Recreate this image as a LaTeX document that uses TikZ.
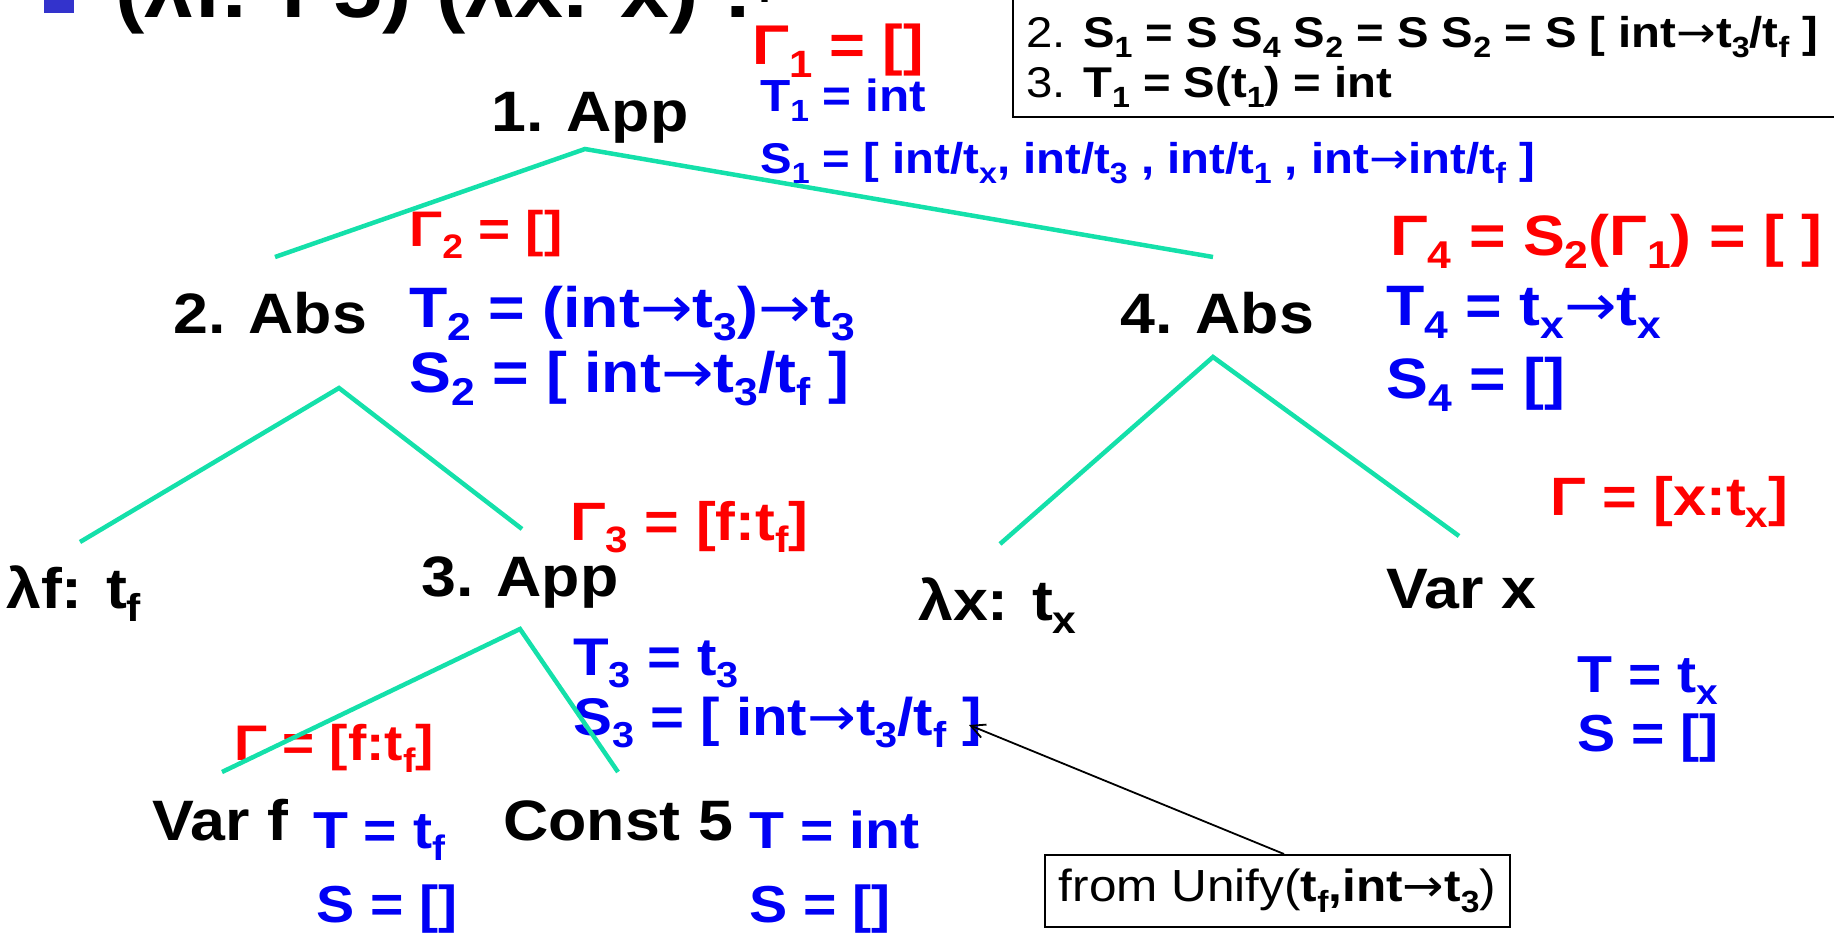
\documentclass[tikz,border=0pt]{standalone}
\usepackage{fontspec}
\setmainfont{Liberation Sans}[FakeStretch=1.1]
\newfontfamily\arrf{DejaVu Sans}[FakeStretch=1.1]
\usepackage{graphicx}
\usetikzlibrary{arrows.meta}
\definecolor{tgreen}{HTML}{14E0AA}
\definecolor{tred}{HTML}{FF0000}
\definecolor{tblue}{HTML}{0000F5}
\definecolor{bulletc}{HTML}{3333CC}
\newcommand\sbx[1]{\raisebox{-0.24em}{\scalebox{0.68}{#1}}}
\newcommand\fs[1]{\fontsize{#1}{#1}\selectfont}
\newcommand\rarr{{\arrf\mdseries →}}
\tikzset{
  lbl/.style={anchor=base west, inner sep=0pt},
  big/.style={lbl, font=\fs{57}\bfseries, text=black},
  gam/.style={lbl, text=tred},
  typ/.style={lbl, text=tblue},
  edge/.style={draw=tgreen, line width=4.5pt},
}
\begin{document}
\begin{tikzpicture}[x=1pt,y=-1pt]
\useasboundingbox (0,0) rectangle (1834,938);
\clip (0,0) rectangle (1834,938);
% title
\fill[bulletc] (44,-20) rectangle (74,13);
\node[big, font=\fs{80}\bfseries] (title) at (115,17) {(λf. f 5) (λx. x) :};
\node[big, font=\fs{40}\bfseries] (qm) at (752,2) {?};
% top box
\node[lbl, font=\fs{43}, text=black] (box1) at (1026,47) {2. \textbf{S\sbx{1} = S S\sbx{4} S\sbx{2} = S S\sbx{2} = S [ int\rarr t\sbx{3}/t\sbx{f} ]}};
\node[lbl, font=\fs{43}, text=black] (box2) at (1026,97) {3. \textbf{T\sbx{1} = S(t\sbx{1}) = int}};
\draw[line width=2pt] (1013,-10) rectangle (1850,117);
% node 1
\node[big] (app1) at (491,131) {1. App};
\node[gam, font=\fs{56}\bfseries] (g1) at (752,64) {Γ\sbx{1} = []};
\node[typ, font=\fs{45}\bfseries] (t1) at (760,111) {T\sbx{1} = int};
\node[typ, font=\fs{43}\bfseries] (s1) at (760,173) {S\sbx{1} = [ int/t\sbx{x}, int/t\sbx{3} , int/t\sbx{1} , int\rarr int/t\sbx{f} ]};
% node 2
\node[gam, font=\fs{50}\bfseries] (g2) at (409,246) {Γ\sbx{2} = []};
\node[big] (abs2) at (173,333) {2. Abs};
\node[typ, font=\fs{57}\bfseries] (t2) at (409,327) {T\sbx{2} = (int\rarr t\sbx{3})\rarr t\sbx{3}};
\node[typ, font=\fs{57}\bfseries] (s2) at (409,392) {S\sbx{2} = [ int\rarr t\sbx{3}/t\sbx{f} ]};
% node 4
\node[big] (abs4) at (1120,333) {4. Abs};
\node[gam, font=\fs{57}\bfseries] (g4) at (1390,255) {Γ\sbx{4} = S\sbx{2}(Γ\sbx{1}) = [ ]};
\node[typ, font=\fs{57}\bfseries] (t4) at (1386,325) {T\sbx{4} = t\sbx{x}\rarr t\sbx{x}};
\node[typ, font=\fs{57}\bfseries] (s4) at (1386,398) {S\sbx{4} = []};
% left subtree
\node[big] (lf) at (6,608) {λf: t\sbx{f}};
\node[gam, font=\fs{54}\bfseries] (g3) at (570,540) {Γ\sbx{3} = [f:t\sbx{f}]};
\node[big] (app3) at (421,596) {3. App};
\node[typ, font=\fs{53}\bfseries] (t3) at (573,675) {T\sbx{3} = t\sbx{3}};
\node[typ, font=\fs{53}\bfseries] (s3) at (573,735) {S\sbx{3} = [ int\rarr t\sbx{3}/t\sbx{f} ]};
\node[gam, font=\fs{50}\bfseries] (gf) at (234,760) {Γ = [f:t\sbx{f}]};
\node[big] (varf) at (152,840) {Var f};
\node[typ, font=\fs{52}\bfseries] (tf) at (313,848) {T = t\sbx{f}};
\node[typ, font=\fs{52}\bfseries] (sf) at (316,922) {S = []};
\node[big] (const) at (503,840) {Const 5};
\node[typ, font=\fs{52}\bfseries] (tc) at (749,848) {T = int};
\node[typ, font=\fs{52}\bfseries] (sc) at (749,922) {S = []};
% right subtree
\node[gam, font=\fs{54}\bfseries] (gx) at (1550,515) {Γ = [x:t\sbx{x}]};
\node[big] (lx) at (918,620) {λx: t\sbx{x}};
\node[big] (varx) at (1386,608) {Var x};
\node[typ, font=\fs{52}\bfseries] (tx) at (1577,692) {T = t\sbx{x}};
\node[typ, font=\fs{52}\bfseries] (sx) at (1577,751) {S = []};
% tree edges
\coordinate (a1) at (585,149);
\coordinate (a1l) at (275,257);
\coordinate (a1r) at (1213,257);
\coordinate (a2) at (339,388);
\coordinate (a2l) at (80,542);
\coordinate (a2r) at (522,529);
\coordinate (a3) at (520,629);
\coordinate (a3l) at (222,772);
\coordinate (a3r) at (618,772);
\coordinate (a4) at (1213,357);
\coordinate (a4l) at (1000,544);
\coordinate (a4r) at (1459,536);
\draw[edge] (a1l) -- (a1) -- (a1r);
\draw[edge] (a2l) -- (a2) -- (a2r);
\draw[edge] (a3l) -- (a3) -- (a3r);
\draw[edge] (a4l) -- (a4) -- (a4r);
% unify note
\node[draw, line width=1.8pt, inner xsep=14pt, inner ysep=14pt, anchor=north west, font=\fs{45}] (uni) at (1044,854) {from Unify(\textbf{t\sbx{f},int\rarr t\sbx{3}})};
\coordinate (tip) at (969,725);
\draw[line width=1.8pt, -{Straight Barb[length=14pt,width=14pt]}] ([xshift=240pt]uni.north west) -- (tip);
\end{tikzpicture}
\end{document}
